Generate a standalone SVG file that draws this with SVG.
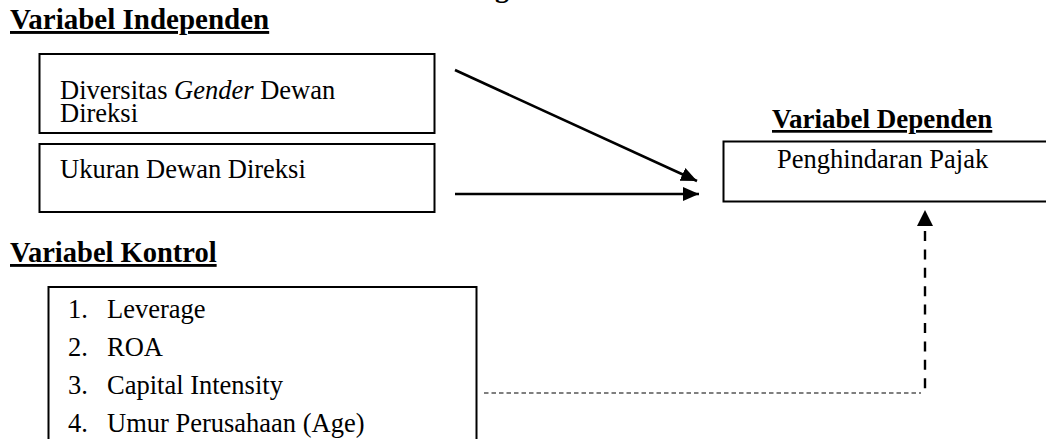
<svg xmlns="http://www.w3.org/2000/svg" width="1046" height="439" viewBox="0 0 1046 439">
  <style>
    text { font-family: "Liberation Serif", "Times New Roman", serif; fill: #000; }
    .head { font-weight: bold; text-decoration: underline; }
    .body { font-size: 26.5px; }
    .box { fill: #fff; stroke: #000; stroke-width: 2; }
    .solid { fill: none; stroke: #000; stroke-width: 2.6; }
    .dash { fill: none; stroke: #000; stroke-width: 2.4; stroke-dasharray: 10 8.4; }
    .dot { fill: none; stroke: #555; stroke-width: 1.6; stroke-dasharray: 4.5 3; }
  </style>
  <defs>
    <marker id="ah" markerUnits="userSpaceOnUse" markerWidth="18" markerHeight="16" refX="16" refY="7" orient="auto">
      <path d="M0,0 L16,7 L0,14 Z" fill="#000"/>
    </marker>
  </defs>
  <rect width="1046" height="439" fill="#fff"/>

  <text x="495" y="-3" font-size="28" font-weight="bold">g</text>

  <g id="heading-independen">
    <text class="head" x="10" y="29" font-size="29">Variabel Independen</text>
  </g>

  <g id="node-diversitas">
    <rect class="box" x="39.5" y="54" width="395" height="79"/>
    <text class="body" x="60" y="99">Diversitas <tspan font-style="italic">Gender</tspan> Dewan</text>
    <text class="body" x="60" y="122">Direksi</text>
  </g>

  <g id="node-ukuran">
    <rect class="box" x="39.5" y="144" width="395" height="68"/>
    <text class="body" x="60" y="178">Ukuran Dewan Direksi</text>
  </g>

  <g id="heading-dependen">
    <text class="head" x="772" y="128" font-size="27">Variabel Dependen</text>
  </g>

  <g id="node-penghindaran">
    <rect class="box" x="723.5" y="141.5" width="340" height="60"/>
    <text class="body" x="777" y="168">Penghindaran Pajak</text>
  </g>

  <g id="heading-kontrol">
    <text class="head" x="10" y="262" font-size="28.5">Variabel Kontrol</text>
  </g>

  <g id="node-kontrol">
    <rect class="box" x="48.5" y="287" width="428" height="180" stroke-width="1.6"/>
    <text class="body" x="68" y="318">1.</text>
    <text class="body" x="107" y="318">Leverage</text>
    <text class="body" x="68" y="356">2.</text>
    <text class="body" x="107" y="356">ROA</text>
    <text class="body" x="68" y="394">3.</text>
    <text class="body" x="107" y="394">Capital Intensity</text>
    <text class="body" x="68" y="432">4.</text>
    <text class="body" x="107" y="432">Umur Perusahaan (Age)</text>
  </g>

  <g id="connectors">
    <line class="solid" x1="455" y1="70" x2="697" y2="181" marker-end="url(#ah)"/>
    <line class="solid" x1="455" y1="194" x2="699" y2="194" marker-end="url(#ah)"/>
    <line class="dot" x1="484" y1="393" x2="921" y2="393"/>
    <line class="dash" x1="925" y1="231" x2="925" y2="389"/>
    <path d="M917,226 L925,210 L933,226 Z" fill="#000"/>
  </g>
</svg>
